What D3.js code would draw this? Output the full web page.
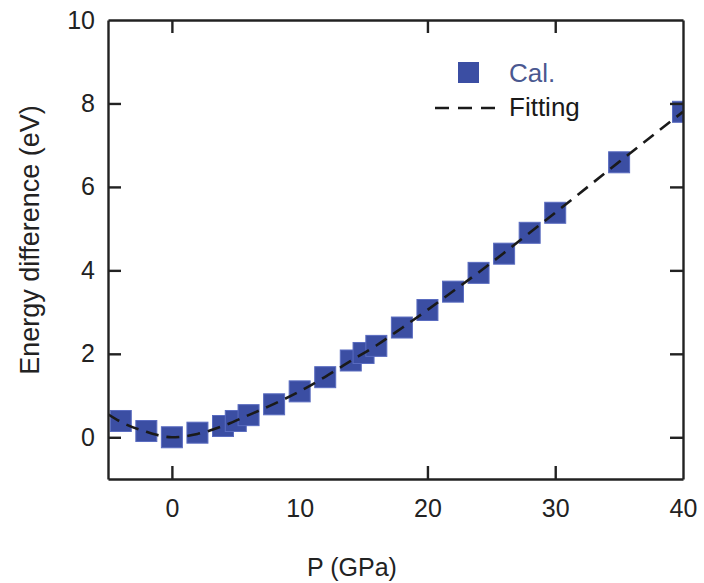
<!DOCTYPE html>
<html>
<head>
<meta charset="utf-8">
<script src="https://cdn.jsdelivr.net/npm/d3@7"></script>
<style>
  body { margin: 0; background: #fff; }
  svg { display: block; font-family: "Liberation Sans", Arial, sans-serif; }
</style>
</head>
<body>
<div id="chart"></div>
<script>
// calculated points
let pressure = [-4, -2, 0, 2, 4, 5, 6, 8, 10, 12, 14, 15, 16, 18, 20, 22, 24, 26, 28, 30, 35, 40];
let energy = [0.39, 0.15, 0.0, 0.11, 0.27, 0.39, 0.53, 0.79, 1.1, 1.44, 1.84, 2.02, 2.19, 2.63, 3.05, 3.49, 3.94, 4.4, 4.9, 5.38, 6.59, 7.8];

// fitting curve
let fitP = [-5, -4, -2, 0, 2, 4, 6, 8, 10, 12, 14, 16, 18, 20, 22, 24, 26, 28, 30, 35, 40];
let fitE = [0.55, 0.37, 0.13, 0.0, 0.08, 0.27, 0.53, 0.8, 1.1, 1.45, 1.83, 2.2, 2.62, 3.05, 3.5, 3.95, 4.42, 4.9, 5.38, 6.6, 7.8];

let xTicks = [0, 10, 20, 30, 40];
let yTicks = [0, 2, 4, 6, 8, 10];

let width = 704, height = 583;
let margin = { left: 108, right: 21, top: 20, bottom: 104 };

let svg = d3.select('#chart').append('svg')
  .attr('width', width).attr('height', height);

let x = d3.scaleLinear().domain([-5, 40]).range([margin.left, width - margin.right]);
let y = d3.scaleLinear().domain([-1, 10]).range([height - margin.bottom, margin.top]);

let tickLen = 13;
let axisColor = '#222';

/// clip to the frame
svg.append('clipPath').attr('id', 'plot-clip')
  .append('rect')
  .attr('x', x(-5)).attr('y', y(10))
  .attr('width', x(40) - x(-5)).attr('height', y(-1) - y(10));

let plot = svg.append('g').attr('clip-path', 'url(#plot-clip)');

let size = 21;
plot.selectAll('.cal')
  .data(pressure)
  .enter().append('rect')
  .attr('class', 'cal')
  .attr('x', function(d) { return x(d) - size / 2; })
  .attr('y', function(d, i) { return y(energy[i]) - size / 2; })
  .attr('width', size).attr('height', size)
  .attr('fill', '#3b4ea3')
  .attr('stroke', '#5a6cc0').attr('stroke-width', 1);

let line = d3.line()
  .x(function(d) { return x(d); })
  .y(function(d, i) { return y(fitE[i]); })
  .curve(d3.curveMonotoneX);

plot.append('path')
  .datum(fitP)
  .attr('d', line)
  .attr('fill', 'none')
  .attr('stroke', '#1a1a1a')
  .attr('stroke-width', 2.6)
  .attr('stroke-dasharray', '13,8');

/// axes, ticks point inward on all four sides
let bottomAxis = d3.axisBottom(x).tickValues(xTicks).tickSizeInner(-tickLen).tickSizeOuter(0).tickPadding(20);
let topAxis = d3.axisTop(x).tickValues(xTicks).tickSizeInner(-tickLen).tickSizeOuter(0).tickFormat('');
let leftAxis = d3.axisLeft(y).tickValues(yTicks).tickSizeInner(-tickLen).tickSizeOuter(0).tickPadding(13);
let rightAxis = d3.axisRight(y).tickValues(yTicks).tickSizeInner(-tickLen).tickSizeOuter(0).tickFormat('');

function styleAxis(g) {
  g.attr('font-family', null);
  g.select('.domain').attr('stroke', axisColor).attr('stroke-width', 2.4);
  g.selectAll('.tick line').attr('stroke', axisColor).attr('stroke-width', 2.4);
  g.selectAll('.tick text').attr('fill', '#222').attr('font-size', 25);
}

svg.append('g').attr('transform', 'translate(0,' + y(-1) + ')').call(bottomAxis).call(styleAxis);
svg.append('g').attr('transform', 'translate(0,' + y(10) + ')').call(topAxis).call(styleAxis);
svg.append('g').attr('transform', 'translate(' + x(-5) + ',0)').call(leftAxis).call(styleAxis);
svg.append('g').attr('transform', 'translate(' + x(40) + ',0)').call(rightAxis).call(styleAxis);

/// hide ticks sitting on the frame corners
svg.selectAll('.tick').filter(function(d) { return d === 10 || d === 40; })
  .select('line').remove();

/// axis titles
svg.append('text')
  .attr('x', 352).attr('y', 576)
  .attr('text-anchor', 'middle')
  .attr('font-size', 25).attr('fill', '#222')
  .text('P (GPa)');

svg.append('text')
  .attr('transform', 'translate(39,' + 240 + ') rotate(-90)')
  .attr('text-anchor', 'middle')
  .attr('font-size', 27).attr('fill', '#222')
  .text('Energy difference (eV)');

/// legend
let legend = svg.append('g');
legend.append('rect')
  .attr('x', 458).attr('y', 62).attr('width', 21).attr('height', 21)
  .attr('fill', '#3b4ea3');
legend.append('text')
  .attr('x', 509).attr('y', 82)
  .attr('font-size', 26).attr('fill', '#4a5890')
  .text('Cal.');
legend.append('line')
  .attr('x1', 435).attr('x2', 496).attr('y1', 108).attr('y2', 108)
  .attr('stroke', '#1a1a1a').attr('stroke-width', 2.6)
  .attr('stroke-dasharray', '14,9');
legend.append('text')
  .attr('x', 509).attr('y', 116)
  .attr('font-size', 26).attr('fill', '#1a1a1a')
  .text('Fitting');
</script>
</body>
</html>
